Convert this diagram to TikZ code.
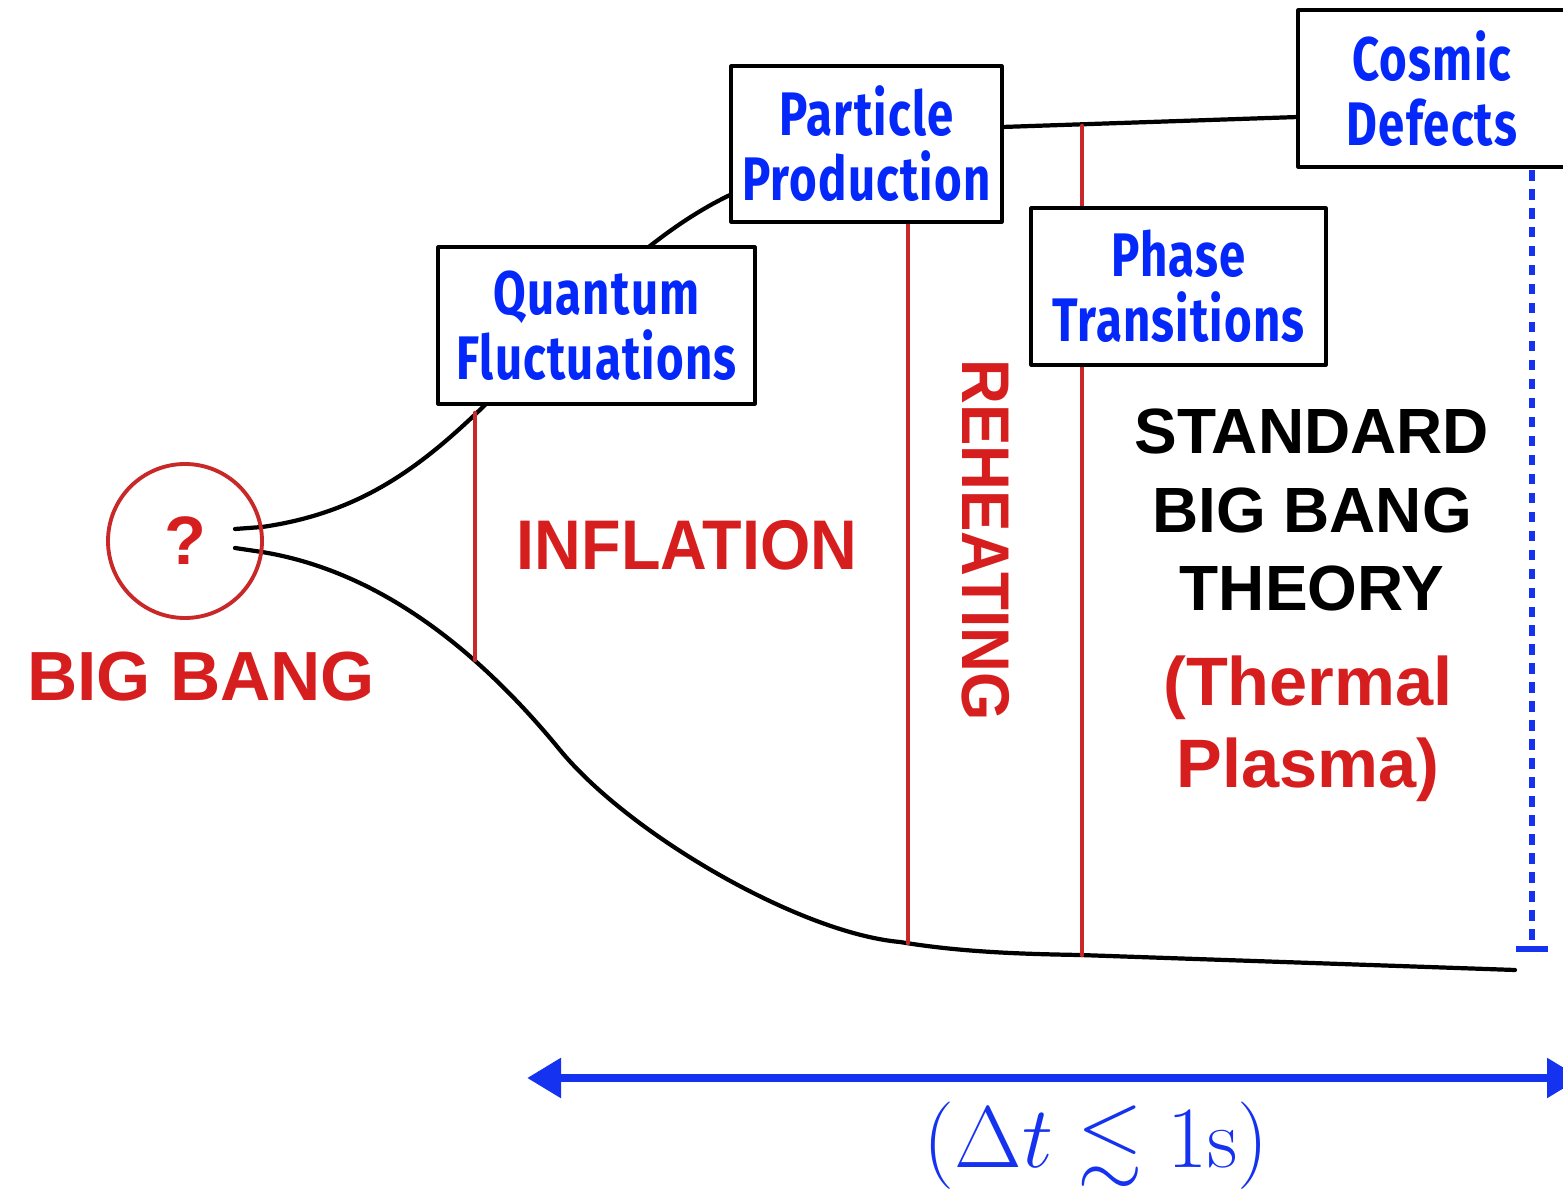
\documentclass[tikz,border=0pt]{standalone}
\usepackage{amssymb}
\usepackage{fontspec}
\newfontfamily\labelfont{Liberation Sans}
\newfontfamily\narrowfont[FakeStretch=0.92]{Liberation Sans}
\newfontfamily\boxfont[FakeStretch=0.77, LetterSpace=2]{Fira Sans}
\usetikzlibrary{arrows.meta}

\definecolor{bangred}{RGB}{215,30,30}
\definecolor{linered}{RGB}{200,40,40}
\definecolor{labelblue}{RGB}{5,40,250}
\definecolor{timeblue}{RGB}{20,50,240}

\tikzset{
	stagebox/.style={draw, fill=white, line width=0.9pt, align=center, inner sep=0pt,
		text=labelblue, font=\boxfont\bfseries\fontsize{17.5}{18.5}\selectfont},
	eralabel/.style={text=bangred, align=center, font=\narrowfont\bfseries\fontsize{20}{22}\selectfont},
	epoch/.style={linered, line width=1.3pt},
	outline/.style={line width=1.2pt},
}

\begin{document}
\begin{tikzpicture}[line join=round, line cap=round, >=stealth]
	
	\useasboundingbox (0,0) rectangle (15.63,11.88);
	
	\coordinate (U0) at (2.35,6.59);
	\coordinate (U1) at (2.62,6.61);
	\coordinate (U2) at (4.85,7.83);
	\coordinate (U3) at (7.30,9.93);
	\coordinate (T0) at (10.02,10.61);
	\coordinate (T1) at (12.98,10.71);
	
	\coordinate (L0) at (2.35,6.40);
	\coordinate (L1) at (2.62,6.36);
	\coordinate (L2) at (5.60,4.38);
	\coordinate (L3) at (9.00,2.46);
	\coordinate (L4) at (10.80,2.33);
	\coordinate (L5) at (15.15,2.18);
	
	\coordinate (D0) at (15.32,10.18);
	\coordinate (D1) at (15.32,2.36);
	\coordinate (A0) at (5.27,1.10);
	\coordinate (A1) at (15.81,1.10);
	
	% outline of the expanding universe
	\draw[outline] (U0) -- (U1) .. controls (3.6,6.75) and (4.2,7.2) .. (U2)
	.. controls (5.6,8.6) and (6.4,9.5) .. (U3);
	\draw[outline] (T0) -- (T1);
	\draw[outline] (L0) -- (L1) .. controls (3.6,6.2) and (4.6,5.6) .. (L2)
	.. controls (6.30,3.53) and (8.0,2.55) .. (L3)
	.. controls (9.6,2.36) and (10.2,2.34) .. (L4) -- (L5);
	
	\draw[epoch] (4.75,7.75) -- (4.75,5.28);
	\draw[epoch] (9.08,9.66) -- (9.08,2.45);
	\draw[epoch] (10.82,10.62) -- (10.82,2.33);
	
	\node[circle, draw=linered, line width=1.1pt, minimum size=1.54cm, inner sep=0pt,
		text=bangred, font=\labelfont\bfseries\fontsize{19.5}{20}\selectfont] (bang) at (1.85,6.47) {?};
	\node[text=bangred, font=\labelfont\bfseries\fontsize{19.8}{22}\selectfont] (bangname) at (2.01,5.11) {BIG BANG};
	
	\node[stagebox, minimum width=3.17cm, minimum height=1.57cm] (quantum) at (5.965,8.625) {Quantum\\Fluctuations};
	\node[stagebox, minimum width=2.71cm, minimum height=1.56cm] (particle) at (8.665,10.44) {Particle\\Production};
	\node[stagebox, minimum width=2.95cm, minimum height=1.57cm] (phase) at (11.785,9.015) {Phase\\Transitions};
	\node[stagebox, minimum width=2.68cm, minimum height=1.57cm] (defects) at (14.32,10.995) {Cosmic\\Defects};
	
	\node[eralabel] (inflation) at (6.87,6.43) {INFLATION};
	\node[eralabel, rotate=-90, font=\narrowfont\bfseries\fontsize{19.2}{22}\selectfont] (reheating) at (9.86,6.48) {REHEATING};
	\node[align=center, font=\labelfont\bfseries\fontsize{18.2}{22.2}\selectfont] (standard) at (13.12,6.78) {STANDARD\\BIG BANG\\THEORY};
	\node[text=bangred, align=center, font=\labelfont\bfseries\fontsize{19.5}{23.3}\selectfont] (plasma) at (13.08,4.59) {(Thermal\\Plasma)};
	
	\draw[timeblue, line width=1.8pt, line cap=butt, dash pattern=on 3pt off 2.4pt,
		-{Bar[width=0.32cm, line width=1.8pt]}] (D0) -- (D1);
	\draw[timeblue, line width=2.5pt, line cap=butt,
		{Triangle[length=0.34cm, width=0.38cm]}-{Triangle[length=0.34cm, width=0.38cm]}] (A0) -- (A1);
	\node[anchor=base, text=timeblue, font=\fontsize{24}{26}\selectfont] (dt) at (10.96,0.21) {$(\Delta t \lesssim 1\mathrm{s})$};
	
\end{tikzpicture}
\end{document}
